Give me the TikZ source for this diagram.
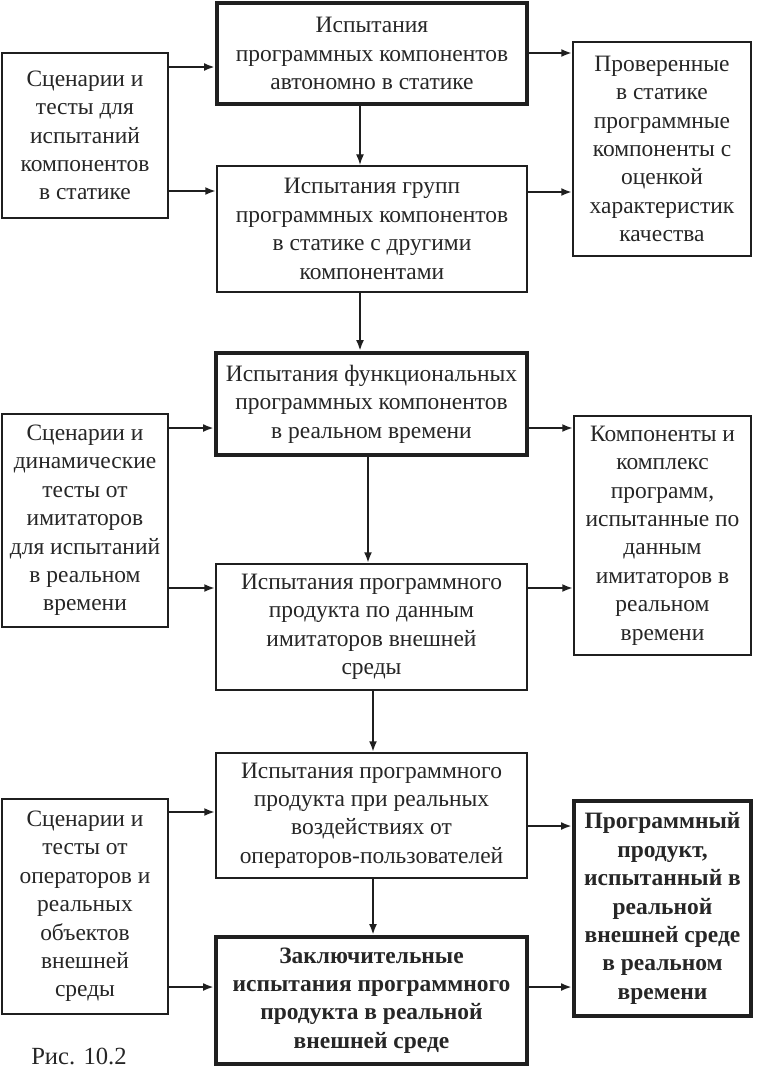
\documentclass[tikz,border=0pt]{standalone}
\usepackage{fontspec}
\setmainfont{Liberation Serif}
\usetikzlibrary{arrows.meta,calc}
\begin{document}
\begin{tikzpicture}[x=0.75pt,y=-0.75pt,
  box/.style={draw=black!88,line width=1.6pt,align=center,inner sep=2pt,
    font=\fontsize{17.6}{21.3}\selectfont,text=black!85},
  thickbox/.style={box,line width=3.4pt},
  boldtxt/.style={font=\fontsize{17.6}{21.3}\selectfont\bfseries},
  arr/.style={draw=black!88,line width=1.5pt,-{Latex[length=8pt,width=6pt]}},
  thinarr/.style={arr,line width=1pt}]
\useasboundingbox (0,0) rectangle (764,1071);
% left column
\node[box,minimum width=166*0.75pt,minimum height=165*0.75pt] (L1) at (85,135.5)
  {Сценарии и\\тесты для\\испытаний\\компонентов\\в статике};
\node[box,minimum width=166*0.75pt,minimum height=213*0.75pt] (L2) at (85,520.5)
  {Сценарии и\\динамические\\тесты от\\имитаторов\\для испытаний\\в реальном\\времени};
\node[box,minimum width=166*0.75pt,minimum height=215*0.75pt] (L3) at (85,906.5)
  {Сценарии и\\тесты от\\операторов и\\реальных\\объектов\\внешней\\среды};
% centre column
\node[thickbox,minimum width=310*0.75pt,minimum height=101*0.75pt] (A1) at (372,53.5)
  {Испытания\\программных компонентов\\автономно в статике};
\node[box,minimum width=310*0.75pt,minimum height=126*0.75pt] (A2) at (372,229)
  {Испытания групп\\программных компонентов\\в статике с другими\\компонентами};
\node[thickbox,minimum width=311*0.75pt,minimum height=102*0.75pt] (A3) at (371.5,404)
  {Испытания функциональных\\программных компонентов\\в реальном времени};
\node[box,minimum width=311*0.75pt,minimum height=126*0.75pt] (A4) at (371.5,627)
  {Испытания программного\\продукта по данным\\имитаторов внешней\\среды};
\node[box,minimum width=311*0.75pt,minimum height=125*0.75pt] (A5) at (371.5,815.5)
  {Испытания программного\\продукта при реальных\\воздействиях от\\операторов-пользователей};
\node[thickbox,boldtxt,minimum width=311*0.75pt,minimum height=127*0.75pt] (A6) at (371.5,1000.5)
  {Заключительные\\испытания программного\\продукта в реальной\\внешней среде};
% right column
\node[box,minimum width=178*0.75pt,minimum height=214*0.75pt] (R1) at (662,149)
  {Проверенные\\в статике\\программные\\компоненты с\\оценкой\\характеристик\\качества};
\node[box,minimum width=177*0.75pt,minimum height=239*0.75pt] (R2) at (662.5,535.5)
  {Компоненты и\\комплекс\\программ,\\испытанные по\\данным\\имитаторов в\\реальном\\времени};
\node[thickbox,boldtxt,minimum width=177*0.75pt,minimum height=215*0.75pt] (R3) at (662.5,908.5)
  {Программный\\продукт,\\испытанный в\\реальной\\внешней среде\\в реальном\\времени};
% caption
\node[anchor=west,font=\fontsize{18.5}{22}\selectfont,text=black!85,inner sep=0pt] (cap) at (31,1056) {Рис. 10.2};
% horizontal arrows
\draw[arr] (L1.east |- 0,67) -- (A1.west |- 0,67);
\draw[arr] (L1.east |- 0,191) -- (A2.west |- 0,191);
\draw[arr] (A1.east |- 0,53) -- (R1.west |- 0,53);
\draw[arr] (A2.east |- 0,192) -- (R1.west |- 0,192);
\draw[arr] (L2.east |- 0,428) -- (A3.west |- 0,428);
\draw[arr] (L2.east |- 0,588) -- (A4.west |- 0,588);
\draw[arr] (A3.east |- 0,428) -- (R2.west |- 0,428);
\draw[arr] (A4.east |- 0,588) -- (R2.west |- 0,588);
\draw[arr] (L3.east |- 0,812) -- (A5.west |- 0,812);
\draw[arr] (L3.east |- 0,987) -- (A6.west |- 0,987);
\draw[arr] (A5.east |- 0,826) -- (R3.west |- 0,826);
\draw[arr] (A6.east |- 0,987) -- (R3.west |- 0,987);
% vertical arrows
\draw[thinarr] (A1.south -| 360,0) -- (A2.north -| 360,0);
\draw[arr] (A2.south -| 360,0) -- (A3.north -| 360,0);
\draw[arr] (A3.south -| 368,0) -- (A4.north -| 368,0);
\draw[arr] (A4.south -| 373,0) -- (A5.north -| 373,0);
\draw[arr] (A5.south -| 373,0) -- (A6.north -| 373,0);
\end{tikzpicture}
\end{document}
